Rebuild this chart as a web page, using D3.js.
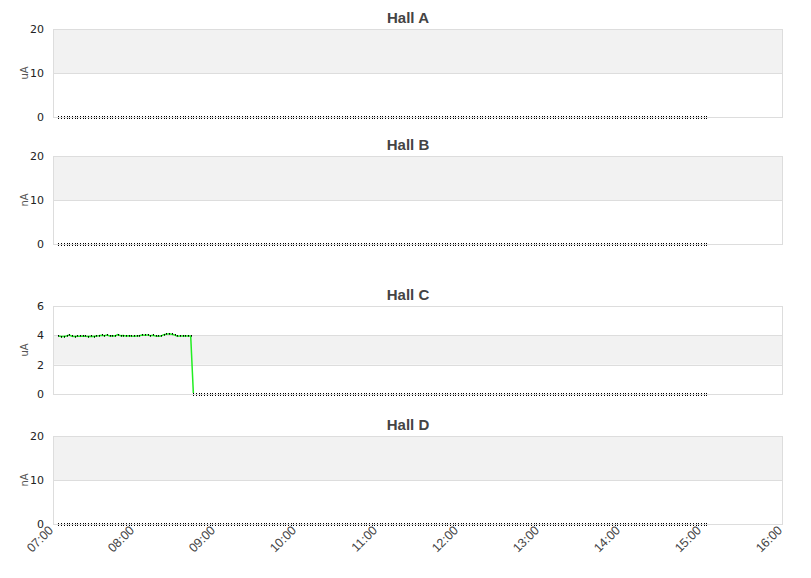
<!DOCTYPE html>
<html>
<head>
<meta charset="utf-8">
<script src="https://cdn.jsdelivr.net/npm/d3@7"></script>
<style>
  body { margin: 0; background: #fff; }
</style>
</head>
<body>
<div class="container"></div>
<script>
// data, one sample every 2 minutes
var startTime = new Date(2000, 0, 1, 7, 4);
var stepMinutes = 2;
var sampleCount = 241;

var hallNames = ["Hall A", "Hall B", "Hall C", "Hall D"];
var hallUnits = ["uA", "nA", "uA", "nA"];
var hallYMax = [20, 20, 6, 20];
var hallYTicks = [[0, 10, 20], [0, 10, 20], [0, 2, 4, 6], [0, 10, 20]];

// Hall C beam current before the trip
var hallCBeam = [3.95, 3.92, 3.92, 3.95, 4.02, 3.94, 3.92, 3.93, 3.93, 3.95,
                 3.93, 3.92, 3.93, 3.92, 3.95, 3.97, 4.0, 3.97, 4.02, 3.95,
                 3.97, 3.96, 4.05, 3.97, 3.98, 3.96, 3.97, 3.95, 3.94, 3.96,
                 3.97, 4.02, 4.0, 4.03, 3.98, 4.0, 3.96, 3.94, 3.95, 4.05,
                 4.08, 4.1, 4.07, 4.03, 3.94, 3.96, 3.95, 3.96, 3.95, 3.96];

var hallValues = [
  new Array(sampleCount).fill(0),
  new Array(sampleCount).fill(0),
  hallCBeam.concat(new Array(sampleCount - hallCBeam.length).fill(0)),
  new Array(sampleCount).fill(0)
];

var xTickLabels = ["07:00", "08:00", "09:00", "10:00", "11:00", "12:00", "13:00", "14:00", "15:00", "16:00"];

var times = d3.range(sampleCount).map(function (i) {
  return d3.timeMinute.offset(startTime, i * stepMinutes);
});

var W = 811, H = 578;
var left = 53, right = 782;
var panelTops = [29, 156, 306, 436];
var panelH = 88;
var sans = "'DejaVu Sans', sans-serif";
var arial = "'Liberation Sans', Arial, sans-serif";

var svg = d3.select(".container").append("svg")
  .attr("width", W)
  .attr("height", H);

var x = d3.scaleTime()
  .domain([new Date(2000, 0, 1, 7, 0), new Date(2000, 0, 1, 16, 0)])
  .range([left, right]);

hallNames.forEach(function (name, k) {
  var top = panelTops[k];
  var y = d3.scaleLinear().domain([0, hallYMax[k]]).range([top + panelH, top]);
  var ticks = hallYTicks[k];
  var g = svg.append("g");

  // alternating bands
  for (var i = 0; i < ticks.length - 1; i++) {
    g.append("rect")
      .attr("x", left)
      .attr("y", y(ticks[i + 1]))
      .attr("width", right - left)
      .attr("height", y(ticks[i]) - y(ticks[i + 1]))
      .attr("fill", i % 2 === 1 ? "#f2f2f2" : "#fff");
  }

  // grid lines
  g.selectAll(".grid").data(ticks).enter().append("line")
    .attr("x1", left).attr("x2", right)
    .attr("y1", function (d) { return Math.round(y(d)) + 0.5; })
    .attr("y2", function (d) { return Math.round(y(d)) + 0.5; })
    .attr("stroke", "#dddddd");

  // frame
  g.append("rect")
    .attr("x", left + 0.5).attr("y", top + 0.5)
    .attr("width", right - left).attr("height", panelH)
    .attr("fill", "none")
    .attr("stroke", "#dddddd");

  // y tick labels
  g.selectAll(".yt").data(ticks).enter().append("text")
    .attr("x", 44)
    .attr("y", function (d) { return y(d) + 4; })
    .attr("text-anchor", "end")
    .style("font-family", sans)
    .style("font-size", "11px")
    .attr("fill", "#222")
    .text(function (d) { return d; });

  // unit label
  g.append("text")
    .attr("transform", "translate(28," + (top + panelH / 2) + ") rotate(-90)")
    .attr("text-anchor", "middle")
    .style("font-family", sans)
    .style("font-size", "10px")
    .attr("fill", "#555")
    .text(hallUnits[k]);

  // title
  g.append("text")
    .attr("x", 408)
    .attr("y", top - 6)
    .attr("text-anchor", "middle")
    .style("font-family", arial)
    .style("font-size", "15px")
    .style("font-weight", "bold")
    .attr("fill", "#444")
    .text(name);

  var vals = hallValues[k];
  var clipId = "clip" + k;
  svg.append("clipPath").attr("id", clipId)
    .append("rect")
    .attr("x", left).attr("y", top)
    .attr("width", right - left).attr("height", panelH - 1);

  var line = d3.line()
    .x(function (d, i) { return x(times[i]); })
    .y(function (d) { return y(d); });

  g.append("path")
    .datum(vals)
    .attr("d", line)
    .attr("fill", "none")
    .attr("stroke", "#22ee22")
    .attr("stroke-width", 1.5)
    .attr("clip-path", "url(#" + clipId + ")");

  // point markers: on the zero line they show as two stacked dots
  g.selectAll(".pt").data(vals).enter().append("rect")
    .attr("x", function (d, i) { return Math.round(x(times[i])); })
    .attr("y", function (d) { return Math.round(y(d)) - 1; })
    .attr("width", 1)
    .attr("height", 1)
    .attr("fill", "#000");
  g.selectAll(".pt2").data(vals).enter().append("rect")
    .attr("x", function (d, i) { return Math.round(x(times[i])); })
    .attr("y", function (d) { return Math.round(y(d)) + (d === 0 ? 1 : 0); })
    .attr("width", 1)
    .attr("height", 1)
    .attr("fill", function (d) { return d === 0 ? "#000" : "#225522"; });
});

// x tick labels under the last panel
var xTicks = xTickLabels.map(function (s) {
  var p = s.split(":");
  return new Date(2000, 0, 1, +p[0], +p[1]);
});

svg.selectAll(".xt").data(xTicks).enter().append("text")
  .attr("transform", function (d) { return "translate(" + (x(d) + 1) + ",531) rotate(-45)"; })
  .attr("text-anchor", "end")
  .style("font-family", arial)
  .style("font-size", "12.5px")
  .attr("fill", "#444")
  .text(function (d, i) { return xTickLabels[i]; });
</script>
</body>
</html>
